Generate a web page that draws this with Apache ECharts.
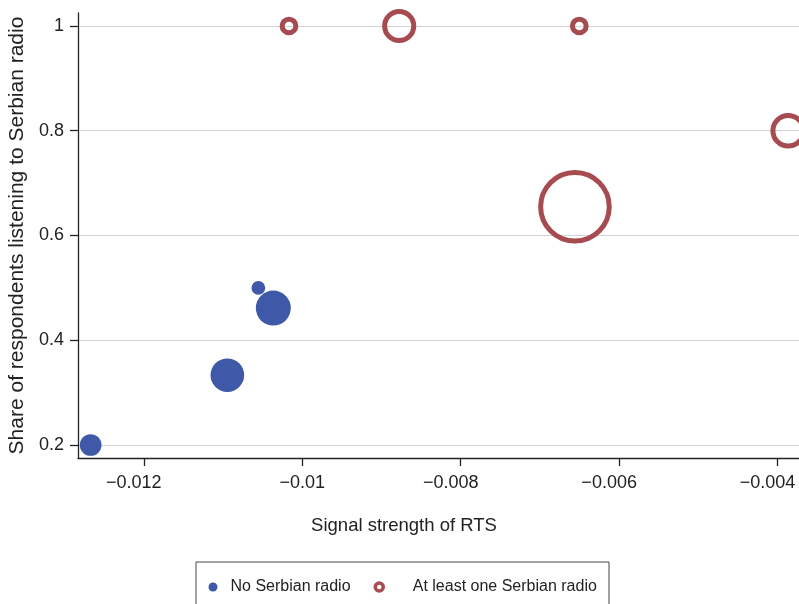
<!DOCTYPE html>
<html>
<head>
<meta charset="utf-8">
<script src="https://cdn.jsdelivr.net/npm/echarts@6/dist/echarts.min.js"></script>
<style>
  html, body { margin: 0; padding: 0; background: #ffffff; }
  #chart { width: 799px; height: 604px; }
</style>
</head>
<body>
<div id="chart"></div>
<script>
// Axis tick positions
const xTicks = [-0.012, -0.010, -0.008, -0.006, -0.004];
const yTicks = [0.2, 0.4, 0.6, 0.8, 1.0];

// Municipalities where no Serbian radio is received
const noRadioSignal = [-0.01267, -0.010945, -0.010365, -0.010554];
const noRadioShare  = [0.2, 0.3333, 0.4615, 0.5];
const noRadioCount  = [5, 12, 13, 2];

// Municipalities receiving at least one Serbian radio
const radioSignal = [-0.010167, -0.008776, -0.006503, -0.006558, -0.003866];
const radioShare  = [1, 1, 1, 0.655, 0.8];
const radioCount  = [2, 9, 2, 50, 10];

const seriesNames = ['No Serbian radio', 'At least one Serbian radio'];

const FONT = "'Liberation Sans', Arial, Helvetica, sans-serif";
const BLUE = '#3F58A7';
const RED = '#A64B4F';
const AXIS = '#222222';

// marker area proportional to the number of respondents
const bubbleSize = d => 9.7 * Math.sqrt(d[2]);

const zip = (xs, ys, ns) => xs.map((x, i) => [x, ys[i], ns[i]]);

const fmtTick = v => (v < 0 ? '\u2212' : '') + String(Math.abs(v));

// three-decimal labels sit slightly left of their tick
const fmtXTick = v => {
  const s = fmtTick(v);
  return s.length > 5 ? '{w|' + s + '}' : '{n|' + s + '}';
};

const chart = echarts.init(document.getElementById('chart'), null, { renderer: 'canvas' });

chart.setOption({
  animation: false,
  backgroundColor: '#ffffff',
  textStyle: { fontFamily: FONT },
  grid: { left: 78, right: 0, top: 13, bottom: 146, containLabel: false, outerBoundsMode: 'none' },
  xAxis: {
    type: 'value',
    min: -0.01283,
    max: -0.00373,
    name: 'Signal strength of RTS',
    nameLocation: 'middle',
    nameGap: 58,
    nameTextStyle: { fontSize: 18.5, color: AXIS, fontFamily: FONT, padding: [0, 69, 0, 0] },
    axisLine: { show: true, lineStyle: { color: AXIS, width: 1.3 } },
    axisTick: { show: true, customValues: xTicks, length: 8, lineStyle: { color: AXIS, width: 1.3 } },
    axisLabel: {
      customValues: xTicks,
      formatter: fmtXTick,
      fontSize: 18, color: AXIS, margin: 16, fontFamily: FONT,
      rich: {
        w: { fontSize: 18, color: AXIS, fontFamily: FONT, padding: [0, 20, 0, 0] },
        n: { fontSize: 18, color: AXIS, fontFamily: FONT }
      }
    },
    splitLine: { show: false }
  },
  yAxis: {
    type: 'value',
    min: 0.1752,
    max: 1.0248,
    name: 'Share of respondents listening to Serbian radio',
    nameLocation: 'middle',
    nameRotate: 90,
    nameGap: 50,
    nameTextStyle: { fontSize: 21, color: AXIS, fontFamily: FONT },
    axisLine: { show: true, lineStyle: { color: AXIS, width: 1.3 } },
    axisTick: { show: true, customValues: yTicks, length: 8, lineStyle: { color: AXIS, width: 1.3 } },
    axisLabel: { customValues: yTicks, formatter: fmtTick, fontSize: 18, color: AXIS, margin: 14, fontFamily: FONT },
    splitLine: { show: true, lineStyle: { color: '#d2d2d2', width: 1.2 } }
  },
  legend: [
    {
      left: 208.5, top: 578, padding: 0,
      itemWidth: 25, itemHeight: 9,
      data: [{ name: seriesNames[0], icon: 'circle', itemStyle: { color: BLUE, borderWidth: 0 } }],
      textStyle: { fontSize: 16, color: AXIS, fontFamily: FONT, lineHeight: 18 },
      selectedMode: false
    },
    {
      left: 373.5, top: 578, padding: 0,
      itemWidth: 57, itemHeight: 8,
      data: [{ name: seriesNames[1], icon: 'circle', itemStyle: { color: 'rgba(0,0,0,0)', borderColor: RED, borderWidth: 3.5 } }],
      textStyle: { fontSize: 16, color: AXIS, fontFamily: FONT, lineHeight: 18 },
      selectedMode: false
    }
  ],
  graphic: [{
    type: 'rect',
    shape: { x: 196, y: 562, width: 413, height: 60 },
    style: { fill: 'none', stroke: '#444444', lineWidth: 1 },
    silent: true
  }],
  series: [
    {
      name: seriesNames[0],
      type: 'scatter',
      data: zip(noRadioSignal, noRadioShare, noRadioCount),
      symbol: 'circle',
      symbolSize: bubbleSize,
      itemStyle: { color: BLUE, opacity: 1 },
      emphasis: { disabled: true },
      clip: false
    },
    {
      name: seriesNames[1],
      type: 'scatter',
      data: zip(radioSignal, radioShare, radioCount),
      symbol: 'circle',
      symbolSize: bubbleSize,
      itemStyle: { color: 'rgba(0,0,0,0)', borderColor: RED, borderWidth: 5, opacity: 1 },
      emphasis: { disabled: true },
      clip: false
    }
  ]
});
</script>
</body>
</html>
